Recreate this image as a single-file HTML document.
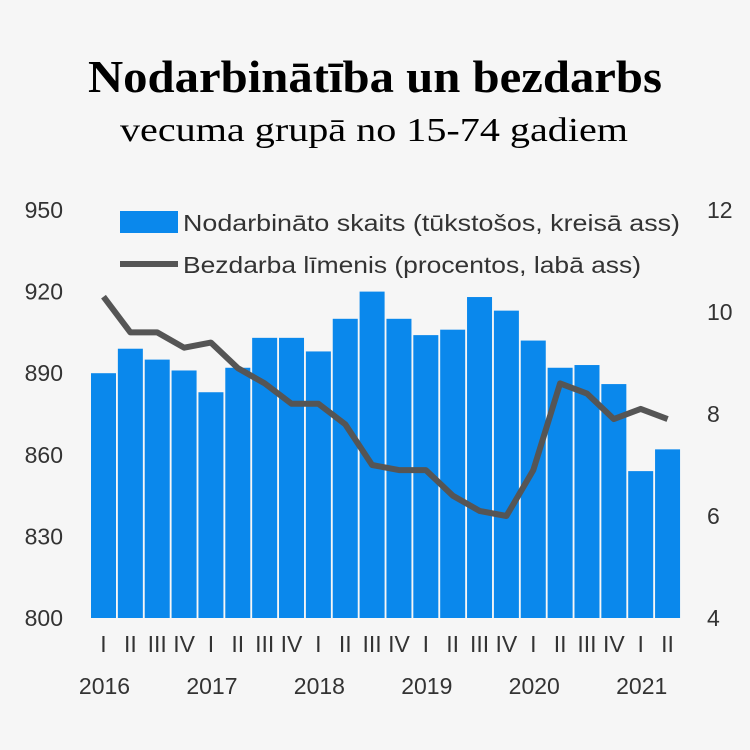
<!DOCTYPE html>
<html><head><meta charset="utf-8"><style>
html,body{margin:0;padding:0;background:#f6f6f6;}
svg{display:block;}
.ax{font-family:"Liberation Sans",sans-serif;font-size:23px;fill:#333;}
</style></head><body>
<svg id="chart" width="750" height="750" viewBox="0 0 750 750">
<rect width="750" height="750" fill="#f6f6f6"/>
<text x="88" y="92" textLength="574" lengthAdjust="spacingAndGlyphs" font-family="Liberation Serif,serif" font-weight="bold" font-size="46" fill="#000">Nodarbinātība un bezdarbs</text>
<text x="120" y="141" textLength="508" lengthAdjust="spacingAndGlyphs" font-family="Liberation Serif,serif" font-size="34" fill="#000">vecuma grupā no 15-74 gadiem</text>
<g id="bars"></g>
<g id="line"></g>
<g id="axes"></g>
<rect x="120" y="211" width="58" height="22" fill="#0a88ec"/>
<text x="183" y="231" class="ax" font-size="24" textLength="497" lengthAdjust="spacingAndGlyphs">Nodarbināto skaits (tūkstošos, kreisā ass)</text>
<line x1="120" y1="264" x2="178" y2="264" stroke="#555" stroke-width="6"/>
<text x="183" y="273" class="ax" font-size="24" textLength="458" lengthAdjust="spacingAndGlyphs">Bezdarba līmenis (procentos, labā ass)</text>
</svg>
<script>
const quarters=["I","II","III","IV","I","II","III","IV","I","II","III","IV","I","II","III","IV","I","II","III","IV","I","II"];
const years=["2016","2017","2018","2019","2020","2021"];
const employed=[890,899,895,891,883,892,903,903,898,910,920,910,904,906,918,913,902,892,893,886,854,862];
const unemployment=[10.3,9.6,9.6,9.3,9.4,8.9,8.6,8.2,8.2,7.8,7.0,6.9,6.9,6.4,6.1,6.0,6.9,8.6,8.4,7.9,8.1,7.9];
const leftTicks=[800,830,860,890,920,950];
const rightTicks=[4,6,8,10,12];
const NS="http://www.w3.org/2000/svg";
const y0=618,y1=210;
const yL=v=>y0-(v-800)/150*(y0-y1);
const yR=v=>y0-(v-4)/8*(y0-y1);
const step=26.86, x0=103.5;
const xC=i=>x0+i*step;
function mk(t,a,p){const e=document.createElementNS(NS,t);for(const k in a)e.setAttribute(k,a[k]);p.appendChild(e);return e;}
const gb=document.getElementById('bars'),gl=document.getElementById('line'),ga=document.getElementById('axes');
employed.forEach((v,i)=>{
 const r=mk('rect',{x:xC(i)-12.5,y:yL(v),width:25,height:y0-yL(v),fill:'#0a88ec'},gb);
 
 
});
const pts=unemployment.map((v,i)=>xC(i).toFixed(1)+','+yR(v).toFixed(1)).join(' ');
const pl=mk('polyline',{points:pts,fill:'none',stroke:'#555','stroke-width':6,'stroke-linejoin':'round'},gl);


leftTicks.forEach(v=>{
 const t=mk('text',{x:63,y:yL(v)+8,'text-anchor':'end',class:'ax'},ga);t.textContent=v;
 
 
});
rightTicks.forEach(v=>{
 const t=mk('text',{x:707,y:yR(v)+8,class:'ax'},ga);t.textContent=v;
 
 
});
quarters.forEach((q,i)=>{
 const t=mk('text',{x:xC(i),y:652,'text-anchor':'middle',class:'ax'},ga);t.textContent=q;
 
 
});
years.forEach((y,j)=>{
 const t=mk('text',{x:xC(j*4)+1,y:694,'text-anchor':'middle',class:'ax','font-size':24},ga);t.textContent=y;
 
 
});
</script>
</body></html>
